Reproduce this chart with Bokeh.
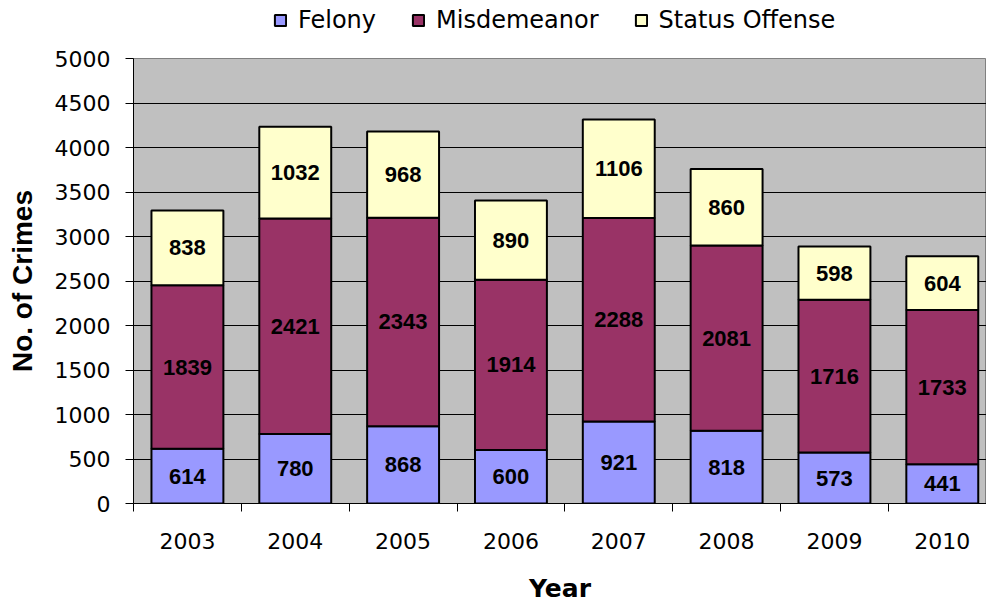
import numpy as np
from bokeh.plotting import figure
from bokeh.layouts import column
from bokeh.models import (ColumnDataSource, Legend, LegendItem, FixedTicker,
                          LabelSet, Range1d)
from bokeh.core.properties import value
from bokeh.embed import file_html
from bokeh.resources import INLINE

years = ["2003", "2004", "2005", "2006", "2007", "2008", "2009", "2010"]
felony = [614, 780, 868, 600, 921, 818, 573, 441]
misdemeanor = [1839, 2421, 2343, 1914, 2288, 2081, 1716, 1733]
status = [838, 1032, 968, 890, 1106, 860, 598, 604]
series = ["Felony", "Misdemeanor", "Status Offense"]
colors = ["#9999FF", "#993366", "#FFFFCC"]
y_ticks = list(range(0, 5001, 500))

FONT = "DejaVu Sans"
BFONT = "Liberation Sans"
W = 986
LEFT = 133
xpos = list(range(len(years)))

src = ColumnDataSource(dict(x=xpos, Felony=felony, Misdemeanor=misdemeanor,
                            **{"Status Offense": status}))

p = figure(width=W, height=561, output_backend="svg", toolbar_location=None,
           x_range=Range1d(-0.5, 7.41), y_range=Range1d(0, 5000),
           min_border_left=LEFT, min_border_right=0, min_border_top=14,
           min_border_bottom=4)
p.background_fill_color = "#C0C0C0"
p.border_fill_color = "white"
p.outline_line_color = "#808080"

rs = p.vbar_stack(series, x="x", width=0.667, source=src, fill_color=colors,
                  line_color="black", line_width=2)

# data labels
f = np.array(felony); m = np.array(misdemeanor); s = np.array(status)
lab = ColumnDataSource(dict(
    x=xpos * 3,
    y=list(f / 2) + list(f + m / 2) + list(f + m + s / 2),
    t=[str(v) for v in felony + misdemeanor + status]))
p.add_layout(LabelSet(x="x", y="y", text="t", source=lab,
                      text_font=value(BFONT), text_font_size="22px",
                      text_font_style="bold", text_align="center",
                      text_baseline="middle", text_color="black"))

# axes
p.xgrid.visible = False
p.ygrid.grid_line_color = "black"
p.ygrid.grid_line_width = 1
p.yaxis.ticker = FixedTicker(ticks=y_ticks)
p.yaxis.minor_tick_line_color = None
p.yaxis.major_tick_out = 8
p.yaxis.major_tick_in = 0
p.yaxis.major_label_text_font = FONT
p.yaxis.major_label_text_font_size = "22px"
p.yaxis.major_label_standoff = 15
p.yaxis.axis_label = "No. of Crimes"
p.yaxis.axis_label_text_font = BFONT
p.yaxis.axis_label_text_font_style = "bold"
p.yaxis.axis_label_text_font_size = "28px"
p.yaxis.axis_label_standoff = 14

p.xaxis.ticker = FixedTicker(ticks=xpos,
                             minor_ticks=[i - 0.5 for i in range(len(years) + 1)])
p.xaxis.major_label_overrides = {i: y for i, y in enumerate(years)}
p.xaxis.major_tick_out = 0
p.xaxis.major_tick_in = 0
p.xaxis.minor_tick_out = 8
p.xaxis.minor_tick_in = 0
p.xaxis.minor_tick_line_color = "black"
p.xaxis.major_label_text_font = FONT
p.xaxis.major_label_text_font_size = "22px"
p.xaxis.major_label_standoff = 21
p.xaxis.axis_label = "Year"
p.xaxis.axis_label_text_font = FONT
p.xaxis.axis_label_text_font_style = "bold"
p.xaxis.axis_label_text_font_size = "25px"
p.xaxis.axis_label_standoff = 22
for ax in (p.xaxis, p.yaxis):
    ax.axis_line_color = "black"
    ax.axis_line_width = 1
    ax.major_label_text_color = "black"
    ax.axis_label_text_color = "black"

# legend strip above the chart (legend swatches only; no data drawn here)
lg = figure(width=W, height=44, output_backend="svg", toolbar_location=None,
            x_range=Range1d(0, 1), y_range=Range1d(0, 1),
            min_border_left=LEFT, min_border_right=0, min_border_top=0,
            min_border_bottom=0)
lg.axis.visible = False
lg.grid.visible = False
lg.outline_line_color = None
lg.background_fill_color = "white"
swatch = ColumnDataSource(dict(x=[float("nan")], top=[float("nan")]))
dummies = [lg.vbar(x="x", top="top", width=0.1, source=swatch, fill_color=c,
                   line_color="black", line_width=2) for c in colors]
legend = Legend(items=[LegendItem(label=n, renderers=[r]) for n, r in zip(series, dummies)],
                orientation="horizontal", location=(140, 10),
                label_text_font=FONT, label_text_font_size="24px",
                label_text_color="black",
                glyph_width=14, glyph_height=14, spacing=35,
                label_standoff=11, border_line_color=None,
                background_fill_alpha=0, padding=0, margin=0)
lg.add_layout(legend, "center")

layout = column(lg, p, spacing=0)
open("out.html", "w").write(file_html(layout, INLINE))
